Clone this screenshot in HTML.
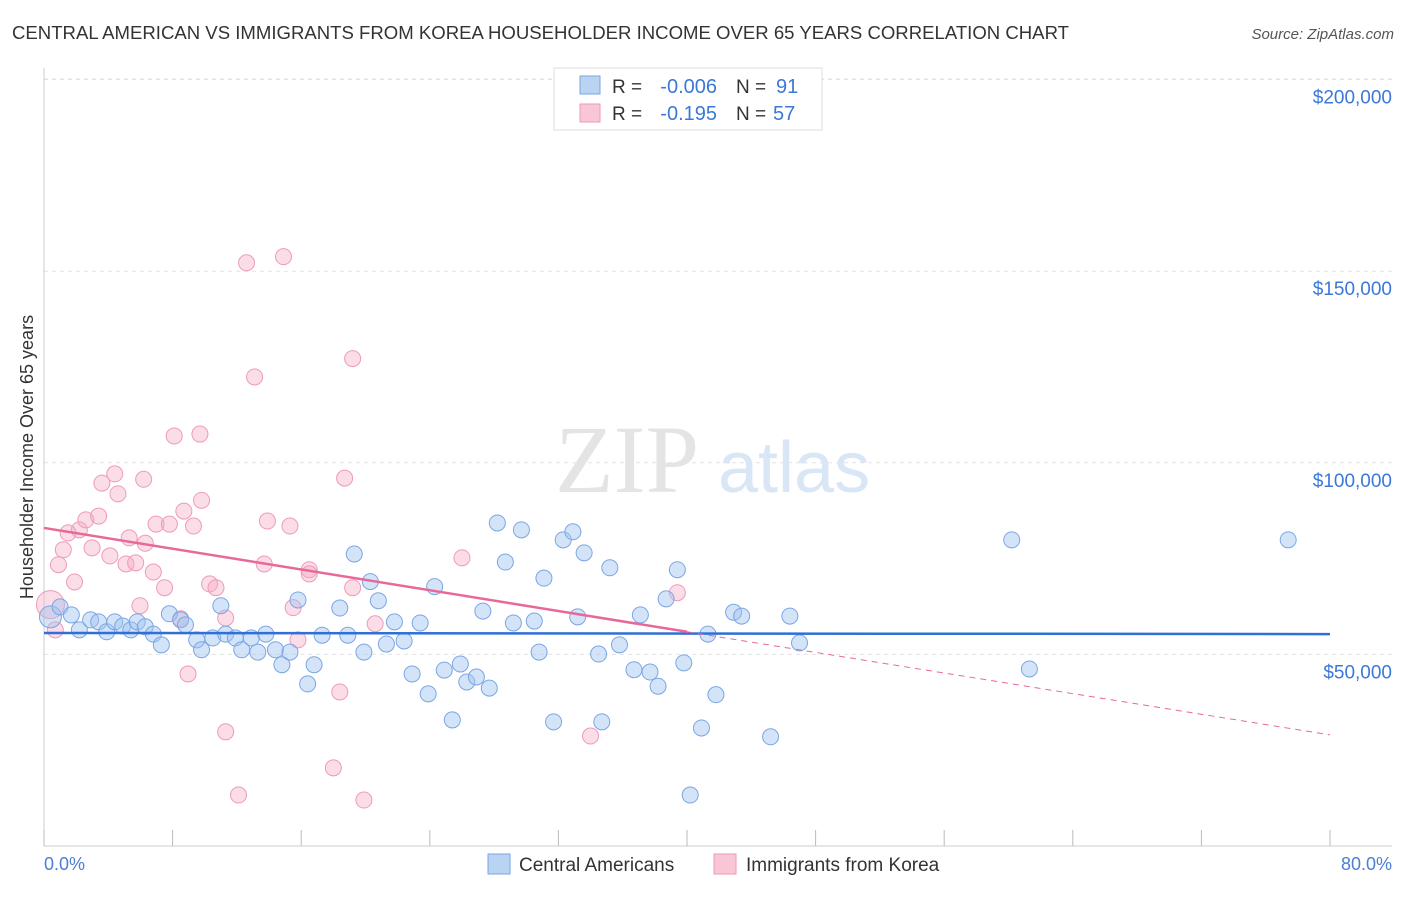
<!DOCTYPE html>
<html><head><meta charset="utf-8"><style>
body{margin:0;background:#fff;font-family:"Liberation Sans",sans-serif;}
</style></head><body>
<svg width="1406" height="892" xmlns="http://www.w3.org/2000/svg">
<text x="12" y="39" font-size="18" fill="#333" textLength="1057" lengthAdjust="spacingAndGlyphs">CENTRAL AMERICAN VS IMMIGRANTS FROM KOREA HOUSEHOLDER INCOME OVER 65 YEARS CORRELATION CHART</text>
<text x="1394" y="39" font-size="15" fill="#555" font-style="italic" text-anchor="end">Source: ZipAtlas.com</text>
<g id="grid"></g>
<text x="555" y="492" font-size="96" fill="#e4e4e4" font-family="Liberation Serif">ZIP</text>
<text x="718" y="492" font-size="72" fill="#d9e6f5">atlas</text>
<line x1="44" y1="68" x2="44" y2="846" stroke="#ccc"/>
<line x1="44" y1="846" x2="1392" y2="846" stroke="#ccc"/>
<g id="xticks"></g>
<g id="yticks"></g>
<text x="44" y="870" font-size="18" fill="#4a7fd4">0.0%</text>
<text x="1392" y="870" font-size="18" fill="#4a7fd4" text-anchor="end">80.0%</text>
<text transform="translate(33,457) rotate(-90)" font-size="18" fill="#333" text-anchor="middle">Householder Income Over 65 years</text>
<g id="pts"></g>
<g id="trends"></g>
<g>
<rect x="554" y="68" width="268" height="62" fill="#fff" stroke="#ddd"/>
<rect x="580" y="76" width="20" height="18" fill="#b9d3f3" stroke="#7aa6e0"/>
<rect x="580" y="104" width="20" height="18" fill="#f9c6d6" stroke="#ef9ab5"/>
<text x="612" y="93" font-size="19" fill="#333">R =</text>
<text x="717" y="93" font-size="20" fill="#3b78d8" text-anchor="end">-0.006</text>
<text x="736" y="93" font-size="19" fill="#333">N =</text>
<text x="776" y="93" font-size="20" fill="#3b78d8">91</text>
<text x="612" y="120" font-size="19" fill="#333">R =</text>
<text x="717" y="120" font-size="20" fill="#3b78d8" text-anchor="end">-0.195</text>
<text x="736" y="120" font-size="19" fill="#333">N =</text>
<text x="773" y="120" font-size="20" fill="#3b78d8">57</text>
</g>
<g>
<rect x="488" y="854" width="22" height="20" fill="#b9d3f3" stroke="#7aa6e0"/>
<text x="519" y="871" font-size="19" fill="#333">Central Americans</text>
<rect x="714" y="854" width="22" height="20" fill="#f9c6d6" stroke="#ef9ab5"/>
<text x="746" y="871" font-size="19" fill="#333">Immigrants from Korea</text>
</g>
</svg>
<script>
const yTicks=[50000,100000,150000,200000];
const yTickLabels=["$50,000","$100,000","$150,000","$200,000"];
const xTicks=[0,8,16,24,32,40,48,56,64,72,80];
const blueX=[0.4,1.0,1.7,2.2,2.9,3.4,3.9,4.4,4.9,5.4,5.8,6.3,6.8,7.3,7.8,8.5,8.8,9.5,9.8,10.5,11.0,11.3,11.9,12.3,12.9,13.3,13.8,14.4,14.8,15.3,15.8,16.4,16.8,17.3,18.4,18.9,19.3,19.9,20.3,20.8,21.3,21.8,22.4,22.9,23.4,23.9,24.3,24.9,25.4,25.9,26.3,26.9,27.3,27.7,28.2,28.7,29.2,29.7,30.5,30.8,31.1,31.7,32.3,32.9,33.2,33.6,34.5,34.7,35.2,35.8,36.7,37.1,37.7,38.2,38.7,39.4,39.8,40.2,40.9,41.3,41.8,42.9,43.4,45.2,46.4,47.0,60.2,61.3,77.4];
const blueY=[59800,62400,60300,56400,59000,58500,55900,58500,57400,56400,58500,57200,55300,52500,60600,59000,57700,53800,51200,54300,62700,55300,54300,51200,54300,50600,55300,51200,47300,50600,64200,42300,47300,55000,62100,55000,76200,50600,69000,64000,52700,58500,53500,44900,58200,39700,67700,45900,32900,47500,42800,44100,61300,41200,84300,74100,58200,82500,58700,50600,69900,32400,79900,82000,59800,76500,50100,32400,72600,52500,46000,60300,45400,41700,64500,72100,47800,13300,30800,55300,39500,61000,60000,28500,60000,53000,79900,46200,79900];
const pinkX=[0.4,0.7,0.9,1.2,1.5,1.9,2.2,2.6,2.99,3.4,3.6,4.1,4.4,4.6,5.1,5.3,5.7,5.97,6.3,6.2,6.8,6.97,7.5,7.8,8.1,8.5,8.7,8.96,9.3,9.7,9.8,10.3,10.7,11.3,11.3,12.1,12.6,13.1,13.7,13.9,14.9,15.3,15.5,15.8,16.5,16.5,18.0,18.4,18.7,19.2,19.2,19.9,20.6,26.0,34.0,39.4];
const pinkY=[63000,56400,73400,77300,81700,68900,82500,85100,77800,86100,94700,75700,97100,91900,73600,80400,73900,62700,79000,95700,71500,84000,67400,84000,107000,59300,87400,44900,83500,107500,90200,68400,67400,59500,29800,13300,152200,122400,73600,84800,153800,83500,62200,53800,72100,71000,20400,40200,96000,127200,67400,12000,58000,75200,28700,66100];
function yPx(v){return 846-v/50000*191.6;}
function xPx(p){return 44+p*16.075;}
const NS="http://www.w3.org/2000/svg";
function mk(t,a,parent){const e=document.createElementNS(NS,t);for(const k in a)e.setAttribute(k,a[k]);parent.appendChild(e);return e;}
const grid=document.getElementById('grid'),yt=document.getElementById('yticks'),xt=document.getElementById('xticks');
yTicks.forEach((v,i)=>{
 const l=mk('line',{x1:44,x2:1392,y1:yPx(v),y2:yPx(v),stroke:'#e3e3e3','stroke-dasharray':'4,4'},grid);
 
 
 const t=mk('text',{x:1392,y:yPx(v)+24,'font-size':19,fill:'#3b78d8','text-anchor':'end'},yt);
 t.textContent=yTickLabels[i];
 
 
});
mk('line',{x1:44,x2:1392,y1:79,y2:79,stroke:'#e3e3e3','stroke-dasharray':'4,4'},grid);
xTicks.forEach(p=>{
 const l=mk('line',{x1:xPx(p),x2:xPx(p),y1:830,y2:846,stroke:'#bbb'},xt);
 
 
});
const pts=document.getElementById('pts');
pinkX.forEach((x,i)=>{
 const c=mk('circle',{cx:xPx(x),cy:yPx(pinkY[i]),r:i==0?14:8,fill:'rgba(245,170,195,0.4)',stroke:'#ef9ab8','stroke-width':1},pts);
 
 
});
blueX.forEach((x,i)=>{
 const c=mk('circle',{cx:xPx(x),cy:yPx(blueY[i]),r:i==0?11:8,fill:'rgba(160,195,240,0.45)',stroke:'#7aa6e4','stroke-width':1},pts);
 
 
});
const tr=document.getElementById('trends');
let a=mk('line',{x1:xPx(0),y1:yPx(55600),x2:xPx(80),y2:yPx(55300),stroke:'#2f6fd6','stroke-width':2.5},tr);


let b=mk('line',{x1:xPx(0),y1:yPx(83000),x2:xPx(40),y2:yPx(55900),stroke:'#e8689a','stroke-width':2.5},tr);


let c=mk('line',{x1:xPx(40),y1:yPx(55900),x2:xPx(80),y2:yPx(29000),stroke:'#e8689a','stroke-width':1,'stroke-dasharray':'6,5'},tr);


</script>
</body></html>
